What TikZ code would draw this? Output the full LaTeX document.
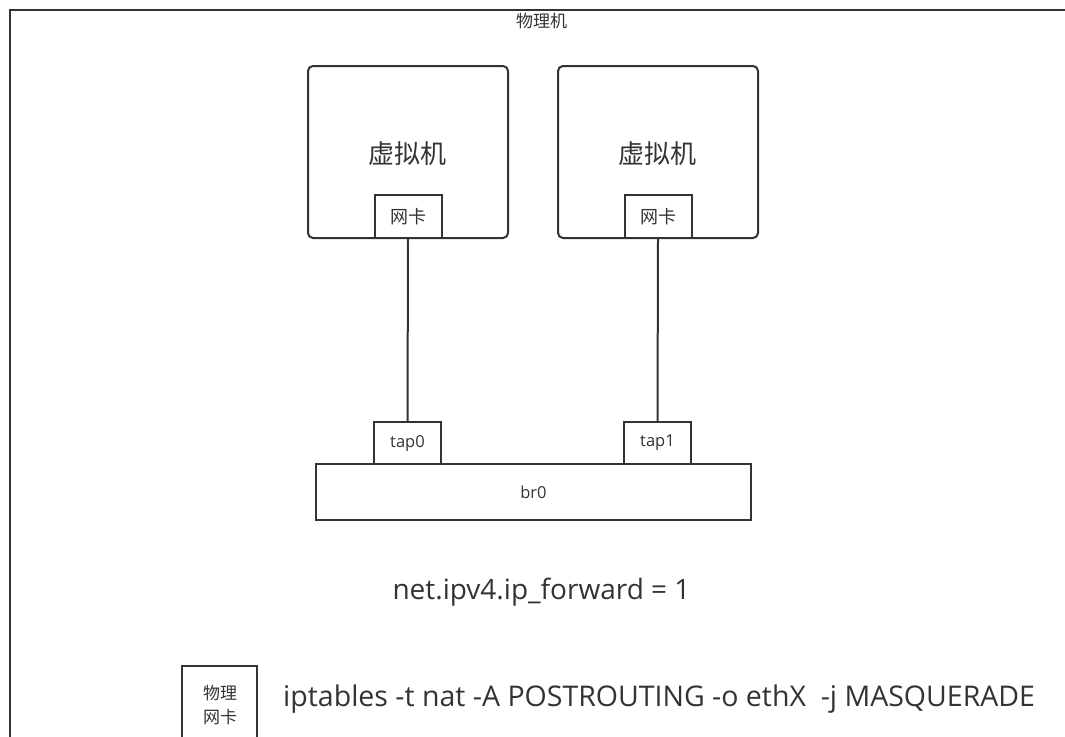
\documentclass[tikz,border=0pt]{standalone}
\usepackage{fontspec}
\setmainfont{Open Sans}
\newfontfamily\cjk{Noto Sans CJK SC}
\begin{document}
\begin{tikzpicture}[x=1pt,y=-1pt,
  line/.style={draw=black!80, line width=2pt},
  vm/.style={line, rounded corners=5pt},
  port/.style={line, fill=white, minimum width=67pt, inner sep=0pt, text=black!80},
  lbl/.style={text=black!80, inner sep=0pt}]
\useasboundingbox (0,0) rectangle (1065,736);
\clip (0,0) rectangle (1065,736);
% host frame
\draw[line] (10,10) rectangle (1080,760);
\node[lbl, font=\cjk\fontsize{17}{20}\selectfont] (host) at (541.5,21) {物理机};
% virtual machines
\draw[vm] (308,66) rectangle (508,238);
\draw[vm] (558,66) rectangle (758,238);
\node[lbl, font=\cjk\fontsize{26}{30}\selectfont] (vm0) at (407.5,154) {虚拟机};
\node[lbl, font=\cjk\fontsize{26}{30}\selectfont] (vm1) at (657.5,154) {虚拟机};
\node[port, minimum height=43pt, font=\cjk\fontsize{18}{20}\selectfont] (nic0) at (408,216.5) {网卡};
\node[port, minimum height=43pt, font=\cjk\fontsize{18}{20}\selectfont] (nic1) at (658,216.5) {网卡};
% bridge and taps
\node[line, minimum width=435pt, minimum height=56pt, inner sep=0pt, text=black!80, font=\fontsize{16.5}{18}\selectfont] (br) at (533.5,492) {br0};
\node[port, minimum height=42pt, font=\fontsize{16.5}{18}\selectfont] (tap0) at (407.5,443) {tap0};
\node[port, minimum height=42pt, font=\fontsize{16.5}{18}\selectfont] (tap1) at (657.5,443) {tap1};
\draw[line] (nic0.south) -- (tap0.north);
\draw[line] (nic1.south) -- (tap1.north);
% forwarding and NAT
\node[lbl, anchor=base, font=\fontsize{28}{32}\selectfont] (fwd) at (541.5,599) {net.ipv4.ip\_forward = 1};
\draw[line] (182,760) |- (257,666) -- (257,760);
\node[lbl, font=\cjk\fontsize{17}{24}\selectfont, align=center] (pnic) at (220,705) {物理\\网卡};
\node[lbl, font=\fontsize{28.5}{32}\selectfont, anchor=base west] (nat) at (283,706) {iptables -t nat -A POSTROUTING -o ethX~ -j MASQUERADE};
\end{tikzpicture}
\end{document}
